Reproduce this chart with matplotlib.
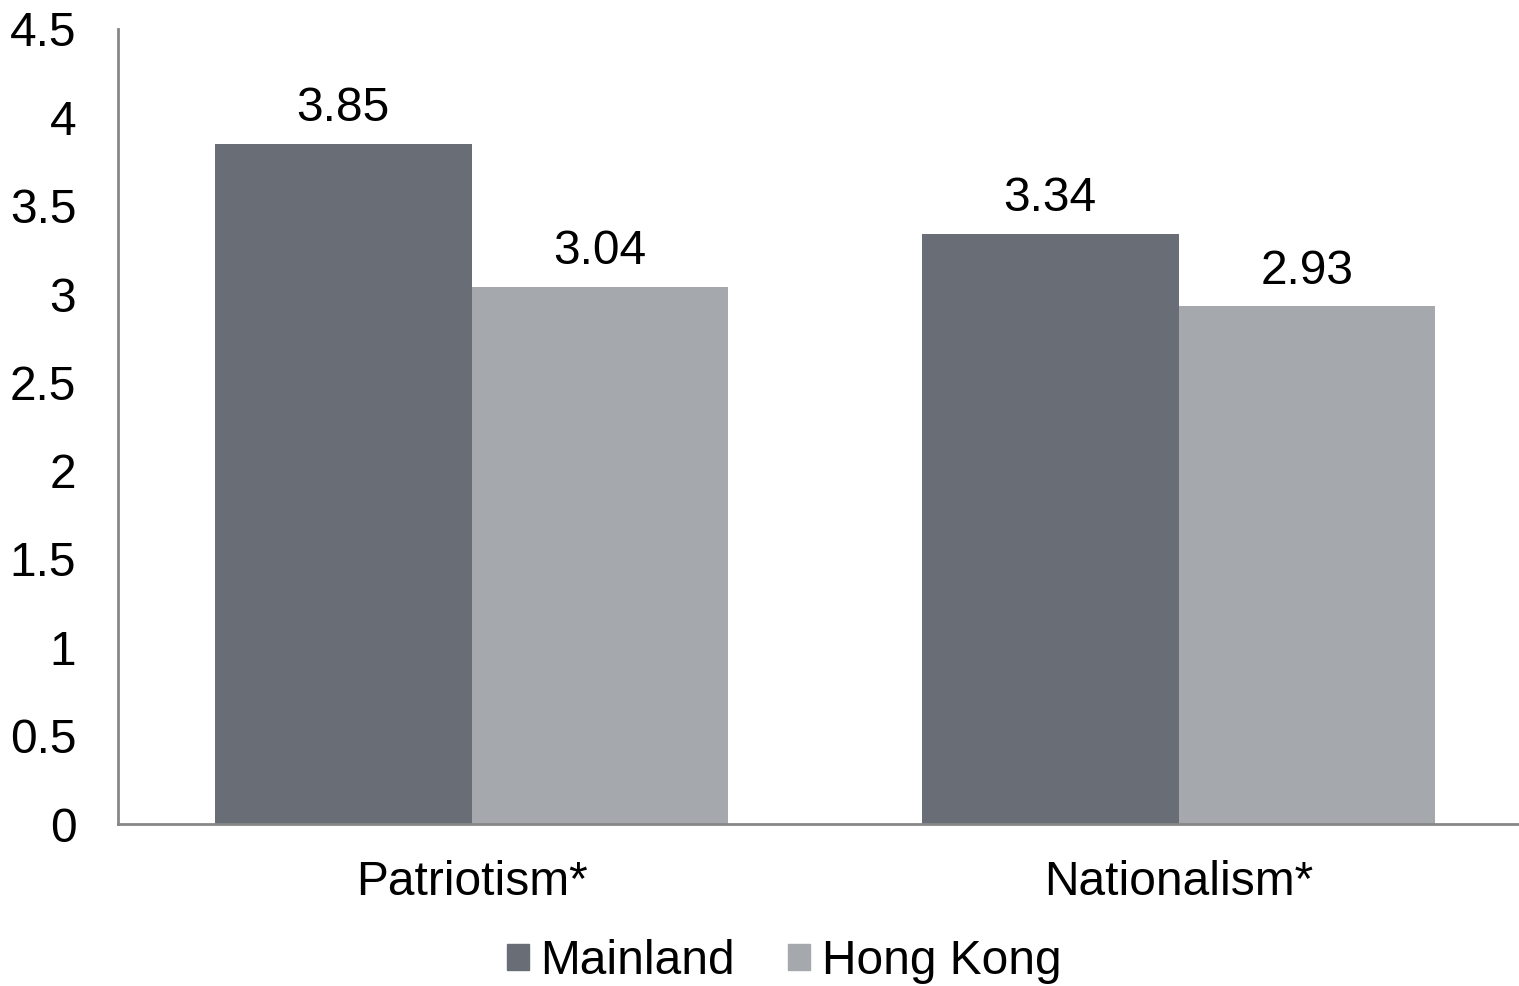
import numpy as np
import matplotlib.pyplot as plt
from matplotlib.patches import Patch

categories = ["Patriotism*", "Nationalism*"]
mainland = [3.85, 3.34]
hong_kong = [3.04, 2.93]
series_names = ["Mainland", "Hong Kong"]
colors = ["#696d75", "#a5a8ac"]

plt.rcParams["font.family"] = ["Liberation Sans", "DejaVu Sans"]
fs = 34.5

fig = plt.figure(figsize=(15.19, 9.86), dpi=100)
# axes runs a little past the right edge of the figure
ax = fig.add_axes([118 / 1519, (986 - 824) / 986, 1414 / 1519, (824 - 29) / 986])

x = np.arange(len(categories))
w = 0.363
b1 = ax.bar(x - w / 2, mainland, w, color=colors[0])
b2 = ax.bar(x + w / 2, hong_kong, w, color=colors[1])

for bars, vals in ((b1, mainland), (b2, hong_kong)):
    for rect, v in zip(bars, vals):
        ax.annotate(f"{v:.2f}", (rect.get_x() + rect.get_width() / 2, v),
                    xytext=(0, 9), textcoords="offset points",
                    ha="center", va="bottom", fontsize=fs)

ax.set_xlim(-0.5, 1.5)
ax.set_ylim(0, 4.5)
ax.set_yticks(np.arange(0, 4.6, 0.5))
ax.set_yticklabels(["0", "0.5", "1", "1.5", "2", "2.5", "3", "3.5", "4", "4.5"])
ax.set_xticks(x)
ax.set_xticklabels(categories)
ax.tick_params(axis="y", length=0, pad=30, labelsize=fs)
ax.tick_params(axis="x", length=0, pad=26, labelsize=fs)

for s in ("top", "right"):
    ax.spines[s].set_visible(False)
for s in ("left", "bottom"):
    ax.spines[s].set_color("#878787")
    ax.spines[s].set_linewidth(2)

handles = [Patch(color=c) for c in colors]
fig.legend(handles, series_names, loc="center", bbox_to_anchor=(784 / 1519, 1 - 962 / 986),
           ncol=2, frameon=False, fontsize=fs, handlelength=0.46, handleheight=0.46,
           handletextpad=0.25, columnspacing=1.1)

fig.savefig("out.png", dpi=100)
